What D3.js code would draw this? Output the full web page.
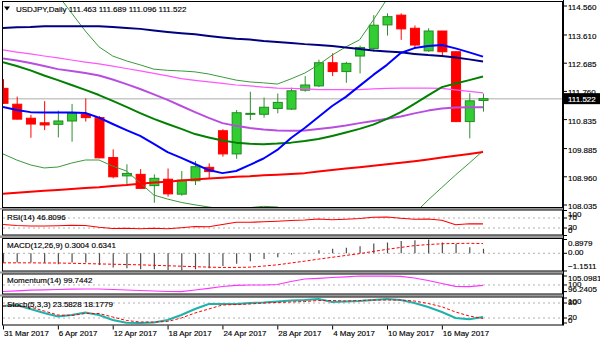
<!DOCTYPE html>
<html>
<head>
<meta charset="utf-8">
<script src="https://cdn.jsdelivr.net/npm/d3@7/dist/d3.min.js"></script>
<style>
  body { margin: 0; background: #fff; }
  svg { display: block; }
  text { font-family: "Liberation Sans", Arial, sans-serif; font-size: 8px; fill: #000; stroke: #000; stroke-width: 0.15px; }
</style>
</head>
<body>
<svg id="chart" width="600" height="343"></svg>
<script>
// ---- USDJPY daily, 31 Mar 2017 – 19 May 2017 ----
const dates = ["31 Mar 2017","3 Apr 2017","4 Apr 2017","5 Apr 2017","6 Apr 2017","7 Apr 2017",
  "10 Apr 2017","11 Apr 2017","12 Apr 2017","13 Apr 2017","14 Apr 2017","17 Apr 2017","18 Apr 2017",
  "19 Apr 2017","20 Apr 2017","21 Apr 2017","24 Apr 2017","25 Apr 2017","26 Apr 2017","27 Apr 2017",
  "28 Apr 2017","1 May 2017","2 May 2017","3 May 2017","4 May 2017","5 May 2017","8 May 2017",
  "9 May 2017","10 May 2017","11 May 2017","12 May 2017","15 May 2017","16 May 2017","17 May 2017",
  "18 May 2017","19 May 2017"];
const dateTicks = ["31 Mar 2017","6 Apr 2017","12 Apr 2017","18 Apr 2017","24 Apr 2017",
  "28 Apr 2017","4 May 2017","10 May 2017","16 May 2017"];

const open  = [111.86,111.34,110.88,110.73,110.68,110.79,111.01,110.90,109.59,108.99,109.04,108.67,
  108.88,108.39,108.83,109.27,110.47,109.71,111.01,111.01,111.20,111.18,111.80,111.94,112.70,112.41,
  112.92,113.17,113.94,114.26,113.83,113.09,113.74,113.06,110.77,111.463];
const high  = [112.16,111.59,110.99,111.44,111.13,111.35,111.53,110.95,109.86,109.37,109.21,109.04,
  109.23,109.15,109.48,109.40,110.52,111.15,111.75,111.56,111.69,111.88,112.26,112.80,113.01,112.73,
  113.26,114.26,114.32,114.32,113.92,113.83,113.74,113.06,111.70,111.689];
const low   = [111.35,110.84,110.24,110.49,110.25,110.11,110.77,109.57,108.91,108.72,108.58,108.11,
  108.31,108.34,108.69,108.91,109.62,109.55,110.82,110.90,111.04,111.15,111.75,111.90,112.26,112.04,
  112.35,113.06,113.59,113.45,113.17,113.06,112.90,110.75,110.22,111.096];
const close = [111.37,110.85,110.69,110.66,110.79,111.04,110.90,109.58,108.96,109.07,108.58,108.91,
  108.40,108.85,109.29,109.13,109.71,111.06,111.04,111.24,111.40,111.78,111.97,112.70,112.41,112.68,
  113.20,113.93,114.21,113.81,113.28,113.74,113.06,110.77,111.45,111.522];

// moving averages and bands on the price chart
const maNavy = [113.84,113.86,113.87,113.90,113.90,113.90,113.90,113.90,113.87,113.84,113.81,113.76,
  113.71,113.67,113.63,113.58,113.53,113.49,113.46,113.41,113.38,113.35,113.31,113.28,113.25,113.20,
  113.15,113.10,113.07,113.04,112.99,112.95,112.92,112.87,112.81,112.74];
const maBlue = [111.25,111.15,111.08,111.07,111.07,111.07,111.05,110.90,110.69,110.49,110.30,110.04,
  109.77,109.58,109.38,109.18,109.08,109.15,109.35,109.56,109.84,110.23,110.56,110.92,111.28,111.58,
  111.94,112.30,112.63,113.02,113.18,113.25,113.28,113.17,113.04,112.90];
const maGreen = [112.72,112.59,112.45,112.28,112.13,111.97,111.81,111.64,111.45,111.25,111.05,110.86,
  110.69,110.53,110.36,110.25,110.15,110.08,110.04,110.03,110.05,110.08,110.13,110.20,110.30,110.41,
  110.53,110.67,110.86,111.08,111.35,111.63,111.90,112.02,112.13,112.25];
const maViolet = [112.84,112.77,112.69,112.59,112.49,112.43,112.36,112.28,112.15,112.00,111.84,111.66,
  111.48,111.28,111.08,110.89,110.72,110.63,110.56,110.51,110.48,110.47,110.48,110.53,110.58,110.64,
  110.72,110.79,110.86,110.94,111.04,111.13,111.20,111.23,111.24,111.24];
const maPink = [113.12,113.05,112.99,112.92,112.86,112.79,112.72,112.66,112.59,112.51,112.43,112.35,
  112.27,112.18,112.12,112.07,112.02,111.97,111.94,111.90,111.87,111.86,111.84,111.82,111.82,111.82,
  111.82,111.84,111.86,111.87,111.87,111.87,111.86,111.81,111.76,111.71];
const maRed = [108.40,108.44,108.47,108.50,108.53,108.56,108.59,108.62,108.66,108.69,108.73,108.77,
  108.80,108.84,108.87,108.90,108.93,108.96,108.98,109.01,109.03,109.05,109.08,109.13,109.18,109.23,
  109.27,109.32,109.37,109.42,109.47,109.53,109.59,109.65,109.71,109.77];
const bbUpper = [116.72,116.40,116.00,115.48,114.92,114.33,113.74,113.22,112.92,112.76,112.63,112.49,
  112.45,112.43,112.40,112.33,112.23,112.13,112.07,112.04,112.00,112.17,112.36,112.63,112.95,113.22,
  113.45,114.10,114.79,115.09,115.25,115.35,115.41,115.48,115.48,115.48];
const bbLower = [109.71,109.51,109.35,109.25,109.28,109.41,109.51,109.51,109.31,109.15,108.76,108.36,
  108.23,108.12,108.04,107.97,107.90,107.90,107.95,107.99,107.97,107.81,107.48,107.15,107.02,106.95,
  106.89,106.80,106.85,107.25,107.75,108.20,108.61,109.02,109.41,109.81];

const priceTicks = [114.560,113.610,112.685,111.760,110.835,109.885,108.960,108.035];
const lastPrice = 111.522;

// indicator series
const rsi = [44,40,38,38,39,41,40,33,28,29,27,29,27,31,36,35,44,53,53,55,57,60,62,66,63,65,68,73,74,
  69,65,66,61,43,47,46.8096];
const macdMain = [-0.62,-0.60,-0.60,-0.61,-0.72,-0.60,-0.60,-0.76,-0.92,-0.98,-1.03,-1.03,-1.09,-1.1511,
  -1.03,-0.97,-0.83,-0.68,-0.52,-0.37,-0.25,-0.07,0.03,0.20,0.30,0.36,0.46,0.64,0.70,0.80,0.85,0.8979,
  0.70,0.60,0.40,0.3004];
const macdSignal = [-0.62,-0.62,-0.62,-0.63,-0.63,-0.65,-0.67,-0.69,-0.71,-0.73,-0.75,-0.78,-0.81,-0.84,
  -0.87,-0.90,-0.92,-0.92,-0.90,-0.83,-0.75,-0.63,-0.51,-0.38,-0.26,-0.14,-0.02,0.12,0.26,0.38,0.50,
  0.57,0.62,0.64,0.65,0.6341];
const momentum = [96.3,96.7,97.04,97.26,97.43,97.6,97.72,97.72,97.43,97.15,96.86,96.58,96.3,96.2405,
  97.15,98.1,99.14,99.82,99.99,99.99,100.27,101.98,103.4,103.79,104.25,104.64,105.0981,105.0,105.0,
  104.9,103.96,102.54,100.84,99.25,99.02,99.7442];
const stochMain = [68,72,56,40,26,32,42,32,12,1,0,2,12,32,56,76,76,76,80,82,86,90,92,96,84,86,88,92,96,
  92,80,64,44,20,15,23.5828];
const stochSignal = [68,68,64,48,32,30,38,38,24,10,4,4,6,20,40,56,72,74,76,80,82,84,86,90,90,88,90,92,
  92,92,88,78,65,44,28,18.1779];

// ---- layout ----
const svg = d3.select("#chart");
const L = 2, R = 563;
const panels = {
  main:  {top: 1,     bottom: 208},
  rsi:   {top: 209.5, bottom: 235.5},
  macd:  {top: 238,   bottom: 271.5},
  mom:   {top: 273.5, bottom: 294.5},
  stoch: {top: 296.5, bottom: 325.5}
};

const x = d3.scalePoint().domain(d3.range(dates.length)).range([3, 483]);
const yMain = d3.scaleLinear().domain([108.035, 114.560]).range([205, 6]);
const yRsi = d3.scaleLinear().domain([0, 100]).range([235.5, 210.5]);
const yMacd = d3.scaleLinear().domain([-1.1511, 0.8979]).range([271, 239.5]);
const yMom = d3.scaleLinear().domain([96.2405, 105.0981]).range([291.6, 276]);
const yStoch = d3.scaleLinear().domain([0, 100]).range([323, 298]);

// separators between the windows
const plist = Object.values(panels);
plist.forEach((p, i) => {
  if (i > 0) {
    const prev = plist[i - 1];
    svg.append("rect").attr("x", 0).attr("width", R + 1)
      .attr("y", prev.bottom).attr("height", p.top - prev.bottom).attr("fill", "#9a9a9a");
  }
});
plist.forEach(p => {
  svg.append("rect").attr("x", L + 0.5).attr("y", p.top + 0.5)
    .attr("width", R - L - 1).attr("height", p.bottom - p.top - 1)
    .attr("fill", "#fff").attr("stroke", "#000").attr("stroke-width", 1);
});

// clip regions
const defs = svg.append("defs");
Object.entries(panels).forEach(([k, p]) => {
  defs.append("clipPath").attr("id", "clip-" + k).append("rect")
    .attr("x", L + 1).attr("y", p.top + 1).attr("width", R - L - 2).attr("height", p.bottom - p.top - 2);
});

// ---- price window ----
const gMain = svg.append("g").attr("clip-path", "url(#clip-main)");

gMain.append("line").attr("x1", L).attr("x2", R)
  .attr("y1", yMain(lastPrice)).attr("y2", yMain(lastPrice))
  .attr("stroke", "#c8c8c8").attr("stroke-width", 1.5);

const idx = d3.range(dates.length);
const bullish = i => close[i] >= open[i];

gMain.selectAll("line.wick").data(idx).join("line")
  .attr("class", "wick")
  .attr("x1", i => x(i) + 0.5).attr("x2", i => x(i) + 0.5)
  .attr("y1", i => yMain(high[i])).attr("y2", i => yMain(low[i]))
  .attr("stroke", i => bullish(i) ? "#2f8f2f" : "#ff0000").attr("stroke-width", 1);

gMain.selectAll("rect.body").data(idx).join("rect")
  .attr("class", "body")
  .attr("x", i => x(i) - 4)
  .attr("width", 9)
  .attr("y", i => yMain(Math.max(open[i], close[i])))
  .attr("height", i => Math.max(1, Math.abs(yMain(open[i]) - yMain(close[i]))))
  .attr("fill", i => bullish(i) ? "#32cd32" : "#ff0000")
  .attr("stroke", i => bullish(i) ? "#228b22" : "#ff0000").attr("stroke-width", 1);

const priceLines = [
  {data: bbUpper,  color: "#3a9a3a", width: 1},
  {data: bbLower,  color: "#3a9a3a", width: 1},
  {data: maRed,    color: "#ff0000", width: 2},
  {data: maPink,   color: "#ff55ff", width: 1.2},
  {data: maViolet, color: "#b84ee0", width: 2},
  {data: maGreen,  color: "#008000", width: 2},
  {data: maNavy,   color: "#000080", width: 2},
  {data: maBlue,   color: "#0000ff", width: 2}
];
priceLines.forEach(s => {
  gMain.append("path")
    .attr("d", d3.line().x((d, i) => x(i)).y(d => yMain(d))(s.data))
    .attr("fill", "none").attr("stroke", s.color).attr("stroke-width", s.width)
    .attr("stroke-linejoin", "round");
});

// header
svg.append("path").attr("d", "M4,6.5 L10,6.5 L7,10.5 Z").attr("fill", "#000");
svg.append("text").attr("x", 16).attr("y", 12)
  .text("USDJPY,Daily  111.463 111.689 111.096 111.522");

// price axis
const axisG = svg.append("g");
axisG.append("line").attr("x1", R + 0.5).attr("x2", R + 0.5).attr("y1", 0).attr("y2", panels.stoch.bottom)
  .attr("stroke", "#000");
priceTicks.forEach(v => {
  axisG.append("line").attr("x1", R).attr("x2", R + 4).attr("y1", yMain(v)).attr("y2", yMain(v)).attr("stroke", "#000");
  axisG.append("text").attr("x", 568).attr("y", yMain(v) + 4).text(d3.format(".3f")(v));
});
// current price tag
axisG.append("rect").attr("x", R + 1).attr("y", yMain(lastPrice) - 5.5).attr("width", 37).attr("height", 11).attr("fill", "#000");
axisG.append("text").attr("x", 568).attr("y", yMain(lastPrice) + 3).style("fill", "#fff").style("stroke", "#fff")
  .text(d3.format(".3f")(lastPrice));

// ---- indicator windows ----
function levels(g, scale, vals) {
  vals.forEach(v => {
    g.append("line").attr("x1", L + 1).attr("x2", R - 1).attr("y1", scale(v)).attr("y2", scale(v))
      .attr("stroke", "#b0b0b0").attr("stroke-dasharray", "2,3");
  });
}
function axisLabels(scale, vals, fmt, p) {
  vals.forEach(v => {
    const yy = Math.min(Math.max(scale(v) - 1, p.top + 4.5), p.bottom - 6);
    axisG.append("line").attr("x1", R).attr("x2", R + 4).attr("y1", scale(v)).attr("y2", scale(v)).attr("stroke", "#000");
    axisG.append("text").attr("x", 568).attr("y", yy + 3).text(fmt(v));
  });
}
const lineOf = scale => d3.line().x((d, i) => x(i)).y(d => scale(d));

// RSI
const gRsi = svg.append("g").attr("clip-path", "url(#clip-rsi)");
levels(gRsi, yRsi, [70, 30]);
gRsi.append("path").attr("d", lineOf(yRsi)(rsi)).attr("fill", "none").attr("stroke", "#ff0000").attr("stroke-width", 1.2);
svg.append("text").attr("x", 7).attr("y", 220).text("RSI(14) 46.8096");
axisLabels(yRsi, [100, 70, 30, 0], d3.format("d"), panels.rsi);

// MACD
const gMacd = svg.append("g").attr("clip-path", "url(#clip-macd)");
levels(gMacd, yMacd, [0]);
gMacd.selectAll("line.hist").data(idx).join("line")
  .attr("x1", i => x(i) + 0.5).attr("x2", i => x(i) + 0.5)
  .attr("y1", yMacd(0)).attr("y2", i => yMacd(macdMain[i]))
  .attr("stroke", "#505050").attr("stroke-width", 1.2);
gMacd.append("path").attr("d", lineOf(yMacd)(macdSignal)).attr("fill", "none")
  .attr("stroke", "#ff0000").attr("stroke-width", 1).attr("stroke-dasharray", "3,2");
svg.append("text").attr("x", 7).attr("y", 248).text("MACD(12,26,9) 0.3004 0.6341");
axisLabels(yMacd, [0.8979, 0, -1.1511], v => v === 0 ? "0.00" : d3.format(".4f")(v), panels.macd);

// Momentum
const gMom = svg.append("g").attr("clip-path", "url(#clip-mom)");
levels(gMom, yMom, [100]);
gMom.append("path").attr("d", lineOf(yMom)(momentum)).attr("fill", "none").attr("stroke", "#ff33ff").attr("stroke-width", 1.2);
svg.append("text").attr("x", 7).attr("y", 283).text("Momentum(14) 99.7442");
axisLabels(yMom, [105.0981, 100, 96.2405], v => v === 100 ? "100" : d3.format(".4f")(v), panels.mom);

// Stochastic
const gSt = svg.append("g").attr("clip-path", "url(#clip-stoch)");
levels(gSt, yStoch, [80, 20]);
gSt.append("path").attr("d", lineOf(yStoch)(stochMain)).attr("fill", "none").attr("stroke", "#20b2aa").attr("stroke-width", 2);
gSt.append("path").attr("d", lineOf(yStoch)(stochSignal)).attr("fill", "none")
  .attr("stroke", "#ff0000").attr("stroke-width", 1).attr("stroke-dasharray", "3,2");
svg.append("text").attr("x", 7).attr("y", 306.5).text("Stoch(5,3,3) 23.5828 18.1779");
axisLabels(yStoch, [100, 80, 20, 0], d3.format("d"), panels.stoch);

// date axis
dateTicks.forEach(d => {
  const i = dates.indexOf(d);
  svg.append("line").attr("x1", x(i) + 0.5).attr("x2", x(i) + 0.5)
    .attr("y1", panels.stoch.bottom).attr("y2", panels.stoch.bottom + 4).attr("stroke", "#000");
  svg.append("text").attr("x", x(i) + 1).attr("y", 336).text(d);
});
</script>
</body>
</html>
